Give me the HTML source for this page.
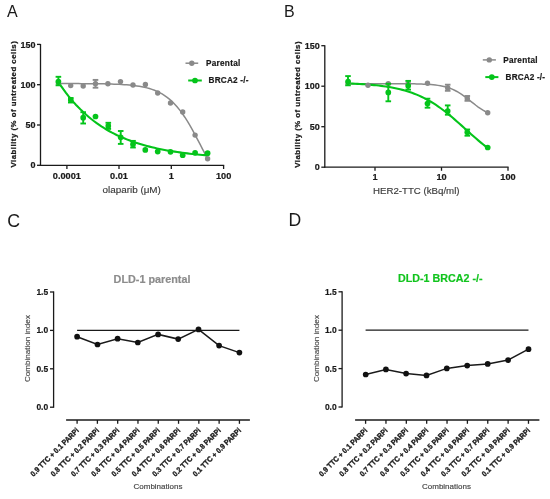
<!DOCTYPE html>
<html><head><meta charset="utf-8"><style>
html,body{margin:0;padding:0;background:#fff;}
svg{display:block;will-change:transform;}
text{font-family:"Liberation Sans",sans-serif;}
</style></head><body>
<svg width="550" height="499" viewBox="0 0 550 499">
<rect width="550" height="499" fill="#fff"/>
<text x="7" y="17" font-size="16" font-weight="normal" text-anchor="start" fill="#1a1a1a" >A</text>
<text x="284" y="17" font-size="16" font-weight="normal" text-anchor="start" fill="#1a1a1a" >B</text>
<text x="7.2" y="226.7" font-size="17.8" font-weight="normal" text-anchor="start" fill="#1a1a1a" >C</text>
<text x="288.6" y="226.1" font-size="17.6" font-weight="normal" text-anchor="start" fill="#1a1a1a" >D</text>
<line x1="40.5" y1="44.0" x2="40.5" y2="165.9" stroke="#1a1a1a" stroke-width="1.3"/>
<line x1="37" y1="165.3" x2="40.5" y2="165.3" stroke="#1a1a1a" stroke-width="1.3"/>
<text x="35.5" y="168.4" font-size="9.0" font-weight="bold" text-anchor="end" fill="#1a1a1a" stroke="#1a1a1a" stroke-width="0.2" >0</text>
<line x1="37" y1="125.00000000000001" x2="40.5" y2="125.00000000000001" stroke="#1a1a1a" stroke-width="1.3"/>
<text x="35.5" y="128.10000000000002" font-size="9.0" font-weight="bold" text-anchor="end" fill="#1a1a1a" stroke="#1a1a1a" stroke-width="0.2" >50</text>
<line x1="37" y1="84.70000000000002" x2="40.5" y2="84.70000000000002" stroke="#1a1a1a" stroke-width="1.3"/>
<text x="35.5" y="87.80000000000001" font-size="9.0" font-weight="bold" text-anchor="end" fill="#1a1a1a" stroke="#1a1a1a" stroke-width="0.2" >100</text>
<line x1="37" y1="44.40000000000002" x2="40.5" y2="44.40000000000002" stroke="#1a1a1a" stroke-width="1.3"/>
<text x="35.5" y="47.50000000000002" font-size="9.0" font-weight="bold" text-anchor="end" fill="#1a1a1a" stroke="#1a1a1a" stroke-width="0.2" >150</text>
<line x1="39.9" y1="165.3" x2="224.2" y2="165.3" stroke="#1a1a1a" stroke-width="1.3"/>
<line x1="66.9" y1="165.3" x2="66.9" y2="169" stroke="#1a1a1a" stroke-width="1.3"/>
<text x="66.9" y="179.0" font-size="9.2" font-weight="bold" text-anchor="middle" fill="#1a1a1a" stroke="#1a1a1a" stroke-width="0.2" >0.0001</text>
<line x1="119" y1="165.3" x2="119" y2="169" stroke="#1a1a1a" stroke-width="1.3"/>
<text x="119" y="179.0" font-size="9.2" font-weight="bold" text-anchor="middle" fill="#1a1a1a" stroke="#1a1a1a" stroke-width="0.2" >0.01</text>
<line x1="171.3" y1="165.3" x2="171.3" y2="169" stroke="#1a1a1a" stroke-width="1.3"/>
<text x="171.3" y="179.0" font-size="9.2" font-weight="bold" text-anchor="middle" fill="#1a1a1a" stroke="#1a1a1a" stroke-width="0.2" >1</text>
<line x1="223.6" y1="165.3" x2="223.6" y2="169" stroke="#1a1a1a" stroke-width="1.3"/>
<text x="223.6" y="179.0" font-size="9.2" font-weight="bold" text-anchor="middle" fill="#1a1a1a" stroke="#1a1a1a" stroke-width="0.2" >100</text>
<text x="102.5" y="193.3" font-size="9.9" font-weight="normal" text-anchor="start" fill="#3a3a3a" stroke="#3a3a3a" stroke-width="0.15" >olaparib (μM)</text>
<text x="0" y="0" font-size="7.8" font-weight="bold" text-anchor="middle" fill="#1a1a1a" stroke="#1a1a1a" stroke-width="0.25" letter-spacing="0.5" transform="translate(15.9,104.1) rotate(-90)">Viability (% of untreated cells)</text>
<path d="M58.40,83.57 L60.93,83.57 L63.46,83.57 L65.99,83.58 L68.52,83.58 L71.04,83.59 L73.57,83.60 L76.10,83.61 L78.63,83.62 L81.16,83.63 L83.69,83.64 L86.22,83.66 L88.75,83.67 L91.27,83.69 L93.80,83.72 L96.33,83.75 L98.86,83.78 L101.39,83.82 L103.92,83.87 L106.45,83.92 L108.98,83.98 L111.51,84.05 L114.03,84.14 L116.56,84.24 L119.09,84.35 L121.62,84.49 L124.15,84.64 L126.68,84.83 L129.21,85.04 L131.74,85.28 L134.26,85.57 L136.79,85.91 L139.32,86.29 L141.85,86.74 L144.38,87.26 L146.91,87.87 L149.44,88.56 L151.97,89.37 L154.49,90.29 L157.02,91.35 L159.55,92.57 L162.08,93.96 L164.61,95.55 L167.14,97.34 L169.67,99.37 L172.20,101.65 L174.73,104.19 L177.25,107.01 L179.78,110.12 L182.31,113.53 L184.84,117.22 L187.37,121.20 L189.90,125.42 L192.43,129.88 L194.96,134.52 L197.48,139.31 L200.01,144.18 L202.54,149.08 L205.07,153.96 L207.60,158.75" fill="none" stroke="#8a8a8a" stroke-width="1.5"/>
<path d="M58.40,82.13 L60.93,85.90 L63.46,89.48 L65.99,92.89 L68.52,96.13 L71.04,99.21 L73.57,102.15 L76.10,104.94 L78.63,107.59 L81.16,110.12 L83.69,112.52 L86.22,114.81 L88.75,116.98 L91.27,119.05 L93.80,121.02 L96.33,122.89 L98.86,124.67 L101.39,126.37 L103.92,127.98 L106.45,129.51 L108.98,130.97 L111.51,132.36 L114.03,133.67 L116.56,134.93 L119.09,136.12 L121.62,137.26 L124.15,138.34 L126.68,139.37 L129.21,140.34 L131.74,141.27 L134.26,142.16 L136.79,143.00 L139.32,143.80 L141.85,144.56 L144.38,145.29 L146.91,145.98 L149.44,146.63 L151.97,147.25 L154.49,147.85 L157.02,148.41 L159.55,148.95 L162.08,149.46 L164.61,149.94 L167.14,150.41 L169.67,150.85 L172.20,151.26 L174.73,151.66 L177.25,152.04 L179.78,152.40 L182.31,152.74 L184.84,153.07 L187.37,153.38 L189.90,153.67 L192.43,153.95 L194.96,154.22 L197.48,154.47 L200.01,154.71 L202.54,154.94 L205.07,155.16 L207.60,155.37" fill="none" stroke="#04c41a" stroke-width="2.1"/>
<line x1="95.5" y1="79.9" x2="95.5" y2="87.7" stroke="#8a8a8a" stroke-width="1.9"/>
<line x1="92.7" y1="79.9" x2="98.3" y2="79.9" stroke="#8a8a8a" stroke-width="1.9"/>
<line x1="92.7" y1="87.7" x2="98.3" y2="87.7" stroke="#8a8a8a" stroke-width="1.9"/>
<circle cx="58.4" cy="83.1" r="2.7" fill="#8a8a8a"/>
<circle cx="70.7" cy="85.6" r="2.7" fill="#8a8a8a"/>
<circle cx="83.2" cy="86" r="2.7" fill="#8a8a8a"/>
<circle cx="95.5" cy="83.8" r="2.7" fill="#8a8a8a"/>
<circle cx="107.9" cy="83.8" r="2.7" fill="#8a8a8a"/>
<circle cx="120.5" cy="81.6" r="2.7" fill="#8a8a8a"/>
<circle cx="133" cy="85" r="2.7" fill="#8a8a8a"/>
<circle cx="145.4" cy="84.4" r="2.7" fill="#8a8a8a"/>
<circle cx="157.7" cy="93" r="2.7" fill="#8a8a8a"/>
<circle cx="170.5" cy="103" r="2.7" fill="#8a8a8a"/>
<circle cx="182.7" cy="112" r="2.7" fill="#8a8a8a"/>
<circle cx="195.1" cy="135.1" r="2.7" fill="#8a8a8a"/>
<circle cx="207.6" cy="158.8" r="2.7" fill="#8a8a8a"/>
<line x1="58.4" y1="76.8" x2="58.4" y2="85.3" stroke="#04c41a" stroke-width="1.9"/>
<line x1="55.6" y1="76.8" x2="61.199999999999996" y2="76.8" stroke="#04c41a" stroke-width="1.9"/>
<line x1="55.6" y1="85.3" x2="61.199999999999996" y2="85.3" stroke="#04c41a" stroke-width="1.9"/>
<line x1="70.8" y1="98" x2="70.8" y2="102.5" stroke="#04c41a" stroke-width="1.9"/>
<line x1="68.0" y1="98" x2="73.6" y2="98" stroke="#04c41a" stroke-width="1.9"/>
<line x1="68.0" y1="102.5" x2="73.6" y2="102.5" stroke="#04c41a" stroke-width="1.9"/>
<line x1="83.2" y1="112.2" x2="83.2" y2="123.5" stroke="#04c41a" stroke-width="1.9"/>
<line x1="80.4" y1="112.2" x2="86.0" y2="112.2" stroke="#04c41a" stroke-width="1.9"/>
<line x1="80.4" y1="123.5" x2="86.0" y2="123.5" stroke="#04c41a" stroke-width="1.9"/>
<line x1="108.3" y1="122.8" x2="108.3" y2="128.9" stroke="#04c41a" stroke-width="1.9"/>
<line x1="105.5" y1="122.8" x2="111.1" y2="122.8" stroke="#04c41a" stroke-width="1.9"/>
<line x1="105.5" y1="128.9" x2="111.1" y2="128.9" stroke="#04c41a" stroke-width="1.9"/>
<line x1="120.7" y1="131" x2="120.7" y2="143.9" stroke="#04c41a" stroke-width="1.9"/>
<line x1="117.9" y1="131" x2="123.5" y2="131" stroke="#04c41a" stroke-width="1.9"/>
<line x1="117.9" y1="143.9" x2="123.5" y2="143.9" stroke="#04c41a" stroke-width="1.9"/>
<line x1="133" y1="140.9" x2="133" y2="147.5" stroke="#04c41a" stroke-width="1.9"/>
<line x1="130.2" y1="140.9" x2="135.8" y2="140.9" stroke="#04c41a" stroke-width="1.9"/>
<line x1="130.2" y1="147.5" x2="135.8" y2="147.5" stroke="#04c41a" stroke-width="1.9"/>
<circle cx="58.4" cy="81.6" r="2.85" fill="#04c41a"/>
<circle cx="70.8" cy="100.1" r="2.85" fill="#04c41a"/>
<circle cx="83.2" cy="117.7" r="2.85" fill="#04c41a"/>
<circle cx="95.5" cy="116.5" r="2.85" fill="#04c41a"/>
<circle cx="108.3" cy="125.9" r="2.85" fill="#04c41a"/>
<circle cx="120.7" cy="137.3" r="2.85" fill="#04c41a"/>
<circle cx="133" cy="144.2" r="2.85" fill="#04c41a"/>
<circle cx="145.3" cy="149.9" r="2.85" fill="#04c41a"/>
<circle cx="157.7" cy="151.6" r="2.85" fill="#04c41a"/>
<circle cx="170.5" cy="151.8" r="2.85" fill="#04c41a"/>
<circle cx="182.7" cy="155.2" r="2.85" fill="#04c41a"/>
<circle cx="195.1" cy="152.8" r="2.85" fill="#04c41a"/>
<circle cx="207.6" cy="153.2" r="2.85" fill="#04c41a"/>
<line x1="185.5" y1="63.2" x2="198.2" y2="63.2" stroke="#8a8a8a" stroke-width="1.5"/>
<circle cx="191.8" cy="63.2" r="2.7" fill="#8a8a8a"/>
<text x="205.9" y="65.9" font-size="8.2" font-weight="bold" text-anchor="start" fill="#1a1a1a" stroke="#1a1a1a" stroke-width="0.2" letter-spacing="0.3">Parental</text>
<line x1="188.2" y1="80.5" x2="201.8" y2="80.5" stroke="#04c41a" stroke-width="2"/>
<circle cx="195" cy="80.5" r="2.85" fill="#04c41a"/>
<text x="208.6" y="83.0" font-size="8.2" font-weight="bold" text-anchor="start" fill="#1a1a1a" stroke="#1a1a1a" stroke-width="0.2" letter-spacing="0.2">BRCA2 -/-</text>
<line x1="324.8" y1="45.3" x2="324.8" y2="167.79999999999998" stroke="#1a1a1a" stroke-width="1.3"/>
<line x1="321.3" y1="167.2" x2="324.8" y2="167.2" stroke="#1a1a1a" stroke-width="1.3"/>
<text x="319.8" y="170.29999999999998" font-size="9.0" font-weight="bold" text-anchor="end" fill="#1a1a1a" stroke="#1a1a1a" stroke-width="0.2" >0</text>
<line x1="321.3" y1="126.69999999999999" x2="324.8" y2="126.69999999999999" stroke="#1a1a1a" stroke-width="1.3"/>
<text x="319.8" y="129.79999999999998" font-size="9.0" font-weight="bold" text-anchor="end" fill="#1a1a1a" stroke="#1a1a1a" stroke-width="0.2" >50</text>
<line x1="321.3" y1="86.19999999999999" x2="324.8" y2="86.19999999999999" stroke="#1a1a1a" stroke-width="1.3"/>
<text x="319.8" y="89.29999999999998" font-size="9.0" font-weight="bold" text-anchor="end" fill="#1a1a1a" stroke="#1a1a1a" stroke-width="0.2" >100</text>
<line x1="321.3" y1="45.69999999999999" x2="324.8" y2="45.69999999999999" stroke="#1a1a1a" stroke-width="1.3"/>
<text x="319.8" y="48.79999999999999" font-size="9.0" font-weight="bold" text-anchor="end" fill="#1a1a1a" stroke="#1a1a1a" stroke-width="0.2" >150</text>
<line x1="324.2" y1="167.2" x2="508.6" y2="167.2" stroke="#1a1a1a" stroke-width="1.3"/>
<line x1="375" y1="167.2" x2="375" y2="170.8" stroke="#1a1a1a" stroke-width="1.3"/>
<text x="375" y="180.3" font-size="9.2" font-weight="bold" text-anchor="middle" fill="#1a1a1a" stroke="#1a1a1a" stroke-width="0.2" >1</text>
<line x1="441.5" y1="167.2" x2="441.5" y2="170.8" stroke="#1a1a1a" stroke-width="1.3"/>
<text x="441.5" y="180.3" font-size="9.2" font-weight="bold" text-anchor="middle" fill="#1a1a1a" stroke="#1a1a1a" stroke-width="0.2" >10</text>
<line x1="508" y1="167.2" x2="508" y2="170.8" stroke="#1a1a1a" stroke-width="1.3"/>
<text x="508" y="180.3" font-size="9.2" font-weight="bold" text-anchor="middle" fill="#1a1a1a" stroke="#1a1a1a" stroke-width="0.2" >100</text>
<text x="373" y="193.6" font-size="9.68" font-weight="normal" text-anchor="start" fill="#3a3a3a" stroke="#3a3a3a" stroke-width="0.15" >HER2-TTC (kBq/ml)</text>
<text x="0" y="0" font-size="7.8" font-weight="bold" text-anchor="middle" fill="#1a1a1a" stroke="#1a1a1a" stroke-width="0.25" letter-spacing="0.5" transform="translate(299.7,104.4) rotate(-90)">Viability (% of untreated cells)</text>
<path d="M348.00,83.65 L350.37,83.65 L352.74,83.65 L355.10,83.65 L357.47,83.65 L359.84,83.65 L362.21,83.65 L364.57,83.65 L366.94,83.65 L369.31,83.65 L371.68,83.65 L374.05,83.65 L376.41,83.65 L378.78,83.66 L381.15,83.66 L383.52,83.66 L385.88,83.66 L388.25,83.67 L390.62,83.67 L392.99,83.68 L395.36,83.69 L397.72,83.70 L400.09,83.71 L402.46,83.72 L404.83,83.74 L407.19,83.76 L409.56,83.79 L411.93,83.82 L414.30,83.86 L416.67,83.91 L419.03,83.97 L421.40,84.05 L423.77,84.14 L426.14,84.26 L428.51,84.40 L430.87,84.58 L433.24,84.79 L435.61,85.05 L437.98,85.37 L440.34,85.76 L442.71,86.22 L445.08,86.79 L447.45,87.45 L449.82,88.24 L452.18,89.17 L454.55,90.24 L456.92,91.47 L459.29,92.85 L461.65,94.38 L464.02,96.04 L466.39,97.81 L468.76,99.66 L471.13,101.55 L473.49,103.43 L475.86,105.27 L478.23,107.02 L480.60,108.65 L482.96,110.14 L485.33,111.49 L487.70,112.68" fill="none" stroke="#8a8a8a" stroke-width="1.5"/>
<path d="M348.00,83.45 L350.37,83.54 L352.74,83.64 L355.10,83.75 L357.47,83.87 L359.84,84.00 L362.21,84.14 L364.57,84.30 L366.94,84.47 L369.31,84.65 L371.68,84.85 L374.05,85.08 L376.41,85.32 L378.78,85.58 L381.15,85.87 L383.52,86.18 L385.88,86.52 L388.25,86.89 L390.62,87.29 L392.99,87.73 L395.36,88.20 L397.72,88.72 L400.09,89.28 L402.46,89.88 L404.83,90.53 L407.19,91.24 L409.56,91.99 L411.93,92.81 L414.30,93.69 L416.67,94.63 L419.03,95.64 L421.40,96.71 L423.77,97.86 L426.14,99.08 L428.51,100.38 L430.87,101.75 L433.24,103.19 L435.61,104.72 L437.98,106.31 L440.34,107.99 L442.71,109.73 L445.08,111.54 L447.45,113.41 L449.82,115.34 L452.18,117.32 L454.55,119.35 L456.92,121.42 L459.29,123.52 L461.65,125.64 L464.02,127.77 L466.39,129.91 L468.76,132.05 L471.13,134.16 L473.49,136.26 L475.86,138.33 L478.23,140.35 L480.60,142.33 L482.96,144.26 L485.33,146.13 L487.70,147.93" fill="none" stroke="#04c41a" stroke-width="2.1"/>
<line x1="447.7" y1="84.7" x2="447.7" y2="90.8" stroke="#8a8a8a" stroke-width="1.9"/>
<line x1="444.9" y1="84.7" x2="450.5" y2="84.7" stroke="#8a8a8a" stroke-width="1.9"/>
<line x1="444.9" y1="90.8" x2="450.5" y2="90.8" stroke="#8a8a8a" stroke-width="1.9"/>
<line x1="467.3" y1="96" x2="467.3" y2="100.8" stroke="#8a8a8a" stroke-width="1.9"/>
<line x1="464.5" y1="96" x2="470.1" y2="96" stroke="#8a8a8a" stroke-width="1.9"/>
<line x1="464.5" y1="100.8" x2="470.1" y2="100.8" stroke="#8a8a8a" stroke-width="1.9"/>
<circle cx="348" cy="83" r="2.7" fill="#8a8a8a"/>
<circle cx="368" cy="85.2" r="2.7" fill="#8a8a8a"/>
<circle cx="388.3" cy="83.7" r="2.7" fill="#8a8a8a"/>
<circle cx="408.2" cy="83.5" r="2.7" fill="#8a8a8a"/>
<circle cx="427.5" cy="83.3" r="2.7" fill="#8a8a8a"/>
<circle cx="447.7" cy="88" r="2.7" fill="#8a8a8a"/>
<circle cx="467.3" cy="98.4" r="2.7" fill="#8a8a8a"/>
<circle cx="487.7" cy="112.7" r="2.7" fill="#8a8a8a"/>
<line x1="348" y1="76.1" x2="348" y2="85.3" stroke="#04c41a" stroke-width="1.9"/>
<line x1="345.2" y1="76.1" x2="350.8" y2="76.1" stroke="#04c41a" stroke-width="1.9"/>
<line x1="345.2" y1="85.3" x2="350.8" y2="85.3" stroke="#04c41a" stroke-width="1.9"/>
<line x1="388.3" y1="83.8" x2="388.3" y2="101.3" stroke="#04c41a" stroke-width="1.9"/>
<line x1="385.5" y1="83.8" x2="391.1" y2="83.8" stroke="#04c41a" stroke-width="1.9"/>
<line x1="385.5" y1="101.3" x2="391.1" y2="101.3" stroke="#04c41a" stroke-width="1.9"/>
<line x1="408.2" y1="80.9" x2="408.2" y2="89.6" stroke="#04c41a" stroke-width="1.9"/>
<line x1="405.4" y1="80.9" x2="411.0" y2="80.9" stroke="#04c41a" stroke-width="1.9"/>
<line x1="405.4" y1="89.6" x2="411.0" y2="89.6" stroke="#04c41a" stroke-width="1.9"/>
<line x1="427.5" y1="98.7" x2="427.5" y2="107.7" stroke="#04c41a" stroke-width="1.9"/>
<line x1="424.7" y1="98.7" x2="430.3" y2="98.7" stroke="#04c41a" stroke-width="1.9"/>
<line x1="424.7" y1="107.7" x2="430.3" y2="107.7" stroke="#04c41a" stroke-width="1.9"/>
<line x1="447.7" y1="105.4" x2="447.7" y2="114.7" stroke="#04c41a" stroke-width="1.9"/>
<line x1="444.9" y1="105.4" x2="450.5" y2="105.4" stroke="#04c41a" stroke-width="1.9"/>
<line x1="444.9" y1="114.7" x2="450.5" y2="114.7" stroke="#04c41a" stroke-width="1.9"/>
<line x1="467.3" y1="129.5" x2="467.3" y2="135.7" stroke="#04c41a" stroke-width="1.9"/>
<line x1="464.5" y1="129.5" x2="470.1" y2="129.5" stroke="#04c41a" stroke-width="1.9"/>
<line x1="464.5" y1="135.7" x2="470.1" y2="135.7" stroke="#04c41a" stroke-width="1.9"/>
<circle cx="348.1" cy="81.5" r="2.85" fill="#04c41a"/>
<circle cx="388.3" cy="92.4" r="2.85" fill="#04c41a"/>
<circle cx="408.2" cy="85.8" r="2.85" fill="#04c41a"/>
<circle cx="427.5" cy="103.5" r="2.85" fill="#04c41a"/>
<circle cx="447.7" cy="111" r="2.85" fill="#04c41a"/>
<circle cx="467.3" cy="132.3" r="2.85" fill="#04c41a"/>
<circle cx="487.7" cy="147.5" r="2.85" fill="#04c41a"/>
<line x1="482.8" y1="59.9" x2="495.9" y2="59.9" stroke="#8a8a8a" stroke-width="1.5"/>
<circle cx="489.3" cy="59.9" r="2.7" fill="#8a8a8a"/>
<text x="503.2" y="62.8" font-size="8.2" font-weight="bold" text-anchor="start" fill="#1a1a1a" stroke="#1a1a1a" stroke-width="0.2" letter-spacing="0.3">Parental</text>
<line x1="485.3" y1="77.1" x2="498.4" y2="77.1" stroke="#04c41a" stroke-width="2"/>
<circle cx="491.8" cy="77.1" r="2.85" fill="#04c41a"/>
<text x="505.6" y="80.0" font-size="8.2" font-weight="bold" text-anchor="start" fill="#1a1a1a" stroke="#1a1a1a" stroke-width="0.2" letter-spacing="0.15">BRCA2 -/-</text>
<line x1="53.6" y1="291.4" x2="53.6" y2="407.8" stroke="#1a1a1a" stroke-width="1.3"/>
<line x1="50.0" y1="292.0" x2="53.6" y2="292.0" stroke="#1a1a1a" stroke-width="1.3"/>
<text x="48.2" y="295.0" font-size="9.8" font-weight="bold" text-anchor="end" fill="#1a1a1a" stroke="#1a1a1a" stroke-width="0.2" textLength="11.8" lengthAdjust="spacingAndGlyphs">1.5</text>
<line x1="50.0" y1="330.4" x2="53.6" y2="330.4" stroke="#1a1a1a" stroke-width="1.3"/>
<text x="48.2" y="333.4" font-size="9.8" font-weight="bold" text-anchor="end" fill="#1a1a1a" stroke="#1a1a1a" stroke-width="0.2" textLength="11.8" lengthAdjust="spacingAndGlyphs">1.0</text>
<line x1="50.0" y1="368.8" x2="53.6" y2="368.8" stroke="#1a1a1a" stroke-width="1.3"/>
<text x="48.2" y="371.8" font-size="9.8" font-weight="bold" text-anchor="end" fill="#1a1a1a" stroke="#1a1a1a" stroke-width="0.2" textLength="11.8" lengthAdjust="spacingAndGlyphs">0.5</text>
<line x1="50.0" y1="407.2" x2="53.6" y2="407.2" stroke="#1a1a1a" stroke-width="1.3"/>
<text x="48.2" y="410.2" font-size="9.8" font-weight="bold" text-anchor="end" fill="#1a1a1a" stroke="#1a1a1a" stroke-width="0.2" textLength="11.8" lengthAdjust="spacingAndGlyphs">0.0</text>
<line x1="66.1" y1="420" x2="249.9" y2="420" stroke="#1a1a1a" stroke-width="1.3"/>
<line x1="77.1" y1="420" x2="77.1" y2="423.8" stroke="#1a1a1a" stroke-width="1.3"/>
<text x="0" y="0" font-size="7.5" font-weight="bold" text-anchor="end" fill="#1a1a1a" stroke="#1a1a1a" stroke-width="0.35" textLength="64.9" lengthAdjust="spacingAndGlyphs" transform="translate(79.30,431.0) rotate(-45)">0.9 TTC + 0.1 PARPi</text>
<line x1="97.38999999999999" y1="420" x2="97.38999999999999" y2="423.8" stroke="#1a1a1a" stroke-width="1.3"/>
<text x="0" y="0" font-size="7.5" font-weight="bold" text-anchor="end" fill="#1a1a1a" stroke="#1a1a1a" stroke-width="0.35" textLength="64.9" lengthAdjust="spacingAndGlyphs" transform="translate(99.59,431.0) rotate(-45)">0.8 TTC + 0.2 PARPi</text>
<line x1="117.67999999999999" y1="420" x2="117.67999999999999" y2="423.8" stroke="#1a1a1a" stroke-width="1.3"/>
<text x="0" y="0" font-size="7.5" font-weight="bold" text-anchor="end" fill="#1a1a1a" stroke="#1a1a1a" stroke-width="0.35" textLength="64.9" lengthAdjust="spacingAndGlyphs" transform="translate(119.88,431.0) rotate(-45)">0.7 TTC + 0.3 PARPi</text>
<line x1="137.97" y1="420" x2="137.97" y2="423.8" stroke="#1a1a1a" stroke-width="1.3"/>
<text x="0" y="0" font-size="7.5" font-weight="bold" text-anchor="end" fill="#1a1a1a" stroke="#1a1a1a" stroke-width="0.35" textLength="64.9" lengthAdjust="spacingAndGlyphs" transform="translate(140.17,431.0) rotate(-45)">0.6 TTC + 0.4 PARPi</text>
<line x1="158.26" y1="420" x2="158.26" y2="423.8" stroke="#1a1a1a" stroke-width="1.3"/>
<text x="0" y="0" font-size="7.5" font-weight="bold" text-anchor="end" fill="#1a1a1a" stroke="#1a1a1a" stroke-width="0.35" textLength="64.9" lengthAdjust="spacingAndGlyphs" transform="translate(160.46,431.0) rotate(-45)">0.5 TTC + 0.5 PARPi</text>
<line x1="178.54999999999998" y1="420" x2="178.54999999999998" y2="423.8" stroke="#1a1a1a" stroke-width="1.3"/>
<text x="0" y="0" font-size="7.5" font-weight="bold" text-anchor="end" fill="#1a1a1a" stroke="#1a1a1a" stroke-width="0.35" textLength="64.9" lengthAdjust="spacingAndGlyphs" transform="translate(180.75,431.0) rotate(-45)">0.4 TTC + 0.6 PARPi</text>
<line x1="198.83999999999997" y1="420" x2="198.83999999999997" y2="423.8" stroke="#1a1a1a" stroke-width="1.3"/>
<text x="0" y="0" font-size="7.5" font-weight="bold" text-anchor="end" fill="#1a1a1a" stroke="#1a1a1a" stroke-width="0.35" textLength="64.9" lengthAdjust="spacingAndGlyphs" transform="translate(201.04,431.0) rotate(-45)">0.3 TTC + 0.7 PARPi</text>
<line x1="219.13" y1="420" x2="219.13" y2="423.8" stroke="#1a1a1a" stroke-width="1.3"/>
<text x="0" y="0" font-size="7.5" font-weight="bold" text-anchor="end" fill="#1a1a1a" stroke="#1a1a1a" stroke-width="0.35" textLength="64.9" lengthAdjust="spacingAndGlyphs" transform="translate(221.33,431.0) rotate(-45)">0.2 TTC + 0.8 PARPi</text>
<line x1="239.42" y1="420" x2="239.42" y2="423.8" stroke="#1a1a1a" stroke-width="1.3"/>
<text x="0" y="0" font-size="7.5" font-weight="bold" text-anchor="end" fill="#1a1a1a" stroke="#1a1a1a" stroke-width="0.35" textLength="64.9" lengthAdjust="spacingAndGlyphs" transform="translate(241.62,431.0) rotate(-45)">0.1 TTC + 0.9 PARPi</text>
<line x1="77.1" y1="330.4" x2="239.42" y2="330.4" stroke="#1a1a1a" stroke-width="1.3"/>
<polyline points="77.1,336.7 97.5,344.5 117.6,338.7 137.8,342.5 158.1,334.4 178.2,339.1 198.5,329.4 219.1,345.6 239.4,352.6" fill="none" stroke="#1a1a1a" stroke-width="1.5"/>
<circle cx="77.1" cy="336.7" r="2.85" fill="#111"/>
<circle cx="97.5" cy="344.5" r="2.85" fill="#111"/>
<circle cx="117.6" cy="338.7" r="2.85" fill="#111"/>
<circle cx="137.8" cy="342.5" r="2.85" fill="#111"/>
<circle cx="158.1" cy="334.4" r="2.85" fill="#111"/>
<circle cx="178.2" cy="339.1" r="2.85" fill="#111"/>
<circle cx="198.5" cy="329.4" r="2.85" fill="#111"/>
<circle cx="219.1" cy="345.6" r="2.85" fill="#111"/>
<circle cx="239.4" cy="352.6" r="2.85" fill="#111"/>
<text x="113.6" y="283.2" font-size="11.4" font-weight="bold" text-anchor="start" fill="#8c8c8c" stroke="#8c8c8c" stroke-width="0.2" textLength="76.8" lengthAdjust="spacingAndGlyphs">DLD-1 parental</text>
<text x="0" y="0" font-size="8.1" font-weight="normal" text-anchor="middle" fill="#4a4a4a" stroke="#4a4a4a" stroke-width="0.15" transform="translate(29.6,348.6) rotate(-90)">Combination index</text>
<text x="133.5" y="489.3" font-size="8.0" font-weight="normal" text-anchor="start" fill="#444" stroke="#444" stroke-width="0.15" >Combinations</text>
<line x1="342.1" y1="291.2" x2="342.1" y2="407.6" stroke="#1a1a1a" stroke-width="1.3"/>
<line x1="338.5" y1="291.8" x2="342.1" y2="291.8" stroke="#1a1a1a" stroke-width="1.3"/>
<text x="336.70000000000005" y="294.8" font-size="9.8" font-weight="bold" text-anchor="end" fill="#1a1a1a" stroke="#1a1a1a" stroke-width="0.2" textLength="11.8" lengthAdjust="spacingAndGlyphs">1.5</text>
<line x1="338.5" y1="330.2" x2="342.1" y2="330.2" stroke="#1a1a1a" stroke-width="1.3"/>
<text x="336.70000000000005" y="333.2" font-size="9.8" font-weight="bold" text-anchor="end" fill="#1a1a1a" stroke="#1a1a1a" stroke-width="0.2" textLength="11.8" lengthAdjust="spacingAndGlyphs">1.0</text>
<line x1="338.5" y1="368.6" x2="342.1" y2="368.6" stroke="#1a1a1a" stroke-width="1.3"/>
<text x="336.70000000000005" y="371.6" font-size="9.8" font-weight="bold" text-anchor="end" fill="#1a1a1a" stroke="#1a1a1a" stroke-width="0.2" textLength="11.8" lengthAdjust="spacingAndGlyphs">0.5</text>
<line x1="338.5" y1="407.0" x2="342.1" y2="407.0" stroke="#1a1a1a" stroke-width="1.3"/>
<text x="336.70000000000005" y="410.0" font-size="9.8" font-weight="bold" text-anchor="end" fill="#1a1a1a" stroke="#1a1a1a" stroke-width="0.2" textLength="11.8" lengthAdjust="spacingAndGlyphs">0.0</text>
<line x1="355.1" y1="420" x2="539.4" y2="420" stroke="#1a1a1a" stroke-width="1.3"/>
<line x1="365.6" y1="420" x2="365.6" y2="423.8" stroke="#1a1a1a" stroke-width="1.3"/>
<text x="0" y="0" font-size="7.5" font-weight="bold" text-anchor="end" fill="#1a1a1a" stroke="#1a1a1a" stroke-width="0.35" textLength="64.9" lengthAdjust="spacingAndGlyphs" transform="translate(367.80,431.0) rotate(-45)">0.9 TTC + 0.1 PARPi</text>
<line x1="385.96000000000004" y1="420" x2="385.96000000000004" y2="423.8" stroke="#1a1a1a" stroke-width="1.3"/>
<text x="0" y="0" font-size="7.5" font-weight="bold" text-anchor="end" fill="#1a1a1a" stroke="#1a1a1a" stroke-width="0.35" textLength="64.9" lengthAdjust="spacingAndGlyphs" transform="translate(388.16,431.0) rotate(-45)">0.8 TTC + 0.2 PARPi</text>
<line x1="406.32000000000005" y1="420" x2="406.32000000000005" y2="423.8" stroke="#1a1a1a" stroke-width="1.3"/>
<text x="0" y="0" font-size="7.5" font-weight="bold" text-anchor="end" fill="#1a1a1a" stroke="#1a1a1a" stroke-width="0.35" textLength="64.9" lengthAdjust="spacingAndGlyphs" transform="translate(408.52,431.0) rotate(-45)">0.7 TTC + 0.3 PARPi</text>
<line x1="426.68" y1="420" x2="426.68" y2="423.8" stroke="#1a1a1a" stroke-width="1.3"/>
<text x="0" y="0" font-size="7.5" font-weight="bold" text-anchor="end" fill="#1a1a1a" stroke="#1a1a1a" stroke-width="0.35" textLength="64.9" lengthAdjust="spacingAndGlyphs" transform="translate(428.88,431.0) rotate(-45)">0.6 TTC + 0.4 PARPi</text>
<line x1="447.04" y1="420" x2="447.04" y2="423.8" stroke="#1a1a1a" stroke-width="1.3"/>
<text x="0" y="0" font-size="7.5" font-weight="bold" text-anchor="end" fill="#1a1a1a" stroke="#1a1a1a" stroke-width="0.35" textLength="64.9" lengthAdjust="spacingAndGlyphs" transform="translate(449.24,431.0) rotate(-45)">0.5 TTC + 0.5 PARPi</text>
<line x1="467.40000000000003" y1="420" x2="467.40000000000003" y2="423.8" stroke="#1a1a1a" stroke-width="1.3"/>
<text x="0" y="0" font-size="7.5" font-weight="bold" text-anchor="end" fill="#1a1a1a" stroke="#1a1a1a" stroke-width="0.35" textLength="64.9" lengthAdjust="spacingAndGlyphs" transform="translate(469.60,431.0) rotate(-45)">0.4 TTC + 0.6 PARPi</text>
<line x1="487.76" y1="420" x2="487.76" y2="423.8" stroke="#1a1a1a" stroke-width="1.3"/>
<text x="0" y="0" font-size="7.5" font-weight="bold" text-anchor="end" fill="#1a1a1a" stroke="#1a1a1a" stroke-width="0.35" textLength="64.9" lengthAdjust="spacingAndGlyphs" transform="translate(489.96,431.0) rotate(-45)">0.3 TTC + 0.7 PARPi</text>
<line x1="508.12" y1="420" x2="508.12" y2="423.8" stroke="#1a1a1a" stroke-width="1.3"/>
<text x="0" y="0" font-size="7.5" font-weight="bold" text-anchor="end" fill="#1a1a1a" stroke="#1a1a1a" stroke-width="0.35" textLength="64.9" lengthAdjust="spacingAndGlyphs" transform="translate(510.32,431.0) rotate(-45)">0.2 TTC + 0.8 PARPi</text>
<line x1="528.48" y1="420" x2="528.48" y2="423.8" stroke="#1a1a1a" stroke-width="1.3"/>
<text x="0" y="0" font-size="7.5" font-weight="bold" text-anchor="end" fill="#1a1a1a" stroke="#1a1a1a" stroke-width="0.35" textLength="64.9" lengthAdjust="spacingAndGlyphs" transform="translate(530.68,431.0) rotate(-45)">0.1 TTC + 0.9 PARPi</text>
<line x1="365.6" y1="330.2" x2="528.48" y2="330.2" stroke="#1a1a1a" stroke-width="1.3"/>
<polyline points="365.7,374.5 385.9,369.4 406.1,373.6 426.5,375.4 446.8,368.4 467.2,365.6 487.7,363.9 508.1,360.1 528.5,349.2" fill="none" stroke="#1a1a1a" stroke-width="1.5"/>
<circle cx="365.7" cy="374.5" r="2.85" fill="#111"/>
<circle cx="385.9" cy="369.4" r="2.85" fill="#111"/>
<circle cx="406.1" cy="373.6" r="2.85" fill="#111"/>
<circle cx="426.5" cy="375.4" r="2.85" fill="#111"/>
<circle cx="446.8" cy="368.4" r="2.85" fill="#111"/>
<circle cx="467.2" cy="365.6" r="2.85" fill="#111"/>
<circle cx="487.7" cy="363.9" r="2.85" fill="#111"/>
<circle cx="508.1" cy="360.1" r="2.85" fill="#111"/>
<circle cx="528.5" cy="349.2" r="2.85" fill="#111"/>
<text x="398" y="282.4" font-size="11.4" font-weight="bold" text-anchor="start" fill="#12c41e" stroke="#12c41e" stroke-width="0.2" textLength="84.5" lengthAdjust="spacingAndGlyphs">DLD-1 BRCA2 -/-</text>
<text x="0" y="0" font-size="8.1" font-weight="normal" text-anchor="middle" fill="#4a4a4a" stroke="#4a4a4a" stroke-width="0.15" transform="translate(318.9,348.6) rotate(-90)">Combination index</text>
<text x="422" y="489.3" font-size="8.0" font-weight="normal" text-anchor="start" fill="#444" stroke="#444" stroke-width="0.15" >Combinations</text>
</svg></body></html>
